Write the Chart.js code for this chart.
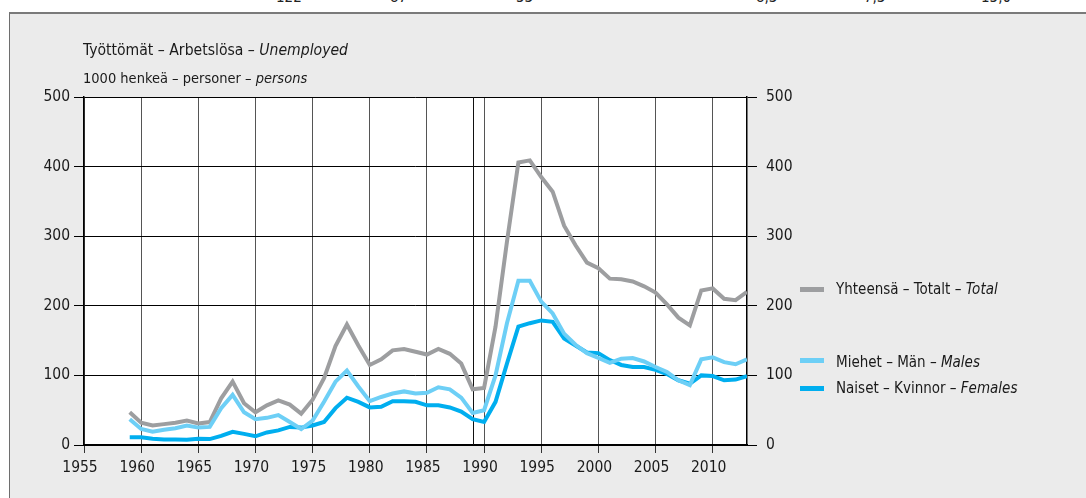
<!DOCTYPE html>
<html>
<head>
<meta charset="utf-8">
<script src="https://cdn.jsdelivr.net/npm/chart.js@4.4.1/dist/chart.umd.min.js"></script>
<style>
  html, body { margin: 0; padding: 0; background: #ffffff; }
  body { width: 1086px; height: 498px; position: relative; overflow: hidden;
         font-family: "Liberation Sans Narrow", "DejaVu Sans Condensed", "Arial Narrow", sans-serif; color: #1a1a1a; }
  #strip { position: absolute; left: 0; top: 0; width: 1086px; height: 12px; overflow: hidden; background: #fff; }
  #strip span { position: absolute; top: -10px; font-size: 15px; line-height: 15px; white-space: nowrap; color: #222; }
  #frame { position: absolute; left: 9px; top: 12px; width: 1077px; height: 486px; background: #ebebeb;
           border-left: 1px solid #6e6e6e; border-top: 2px solid #7a7a7a; box-sizing: border-box; }
  canvas { position: absolute; left: 0; top: 0; }
  .txt { position: absolute; white-space: nowrap; line-height: 16px; font-size: 15px; }
  .leg { position: absolute; width: 24px; height: 5px; }
</style>
</head>
<body>
<div id="strip">
  <span style="left:276px">122</span>
  <span style="left:390px">87</span>
  <span style="left:516px">53</span>
  <span style="left:756px">8,3</span>
  <span style="left:864px">7,3</span>
  <span style="left:981px">15,0</span>
</div>
<div id="frame"></div>
<canvas id="c" width="1086" height="498"></canvas>
<div class="txt" style="left:83px; top:42px; font-size:15.6px;">Työttömät – Arbetslösa – <i>Unemployed</i></div>
<div class="txt" style="left:83px; top:70px; font-size:14.5px;">1000 henkeä – personer – <i>persons</i></div>

<div class="leg" style="left:800px; top:287px; background:#9d9ea0;"></div>
<div class="txt" style="left:836px; top:281px;">Yhteensä – Totalt – <i>Total</i></div>
<div class="leg" style="left:800px; top:358px; background:#6dcff6;"></div>
<div class="txt" style="left:836px; top:354px;">Miehet – Män – <i>Males</i></div>
<div class="leg" style="left:800px; top:386px; background:#00aeef;"></div>
<div class="txt" style="left:836px; top:380px;">Naiset – Kvinnor – <i>Females</i></div>

<script>
const years = [1959,1960,1961,1962,1963,1964,1965,1966,1967,1968,1969,1970,1971,1972,1973,1974,1975,1976,1977,1978,1979,1980,1981,1982,1983,1984,1985,1986,1987,1988,1989,1990,1991,1992,1993,1994,1995,1996,1997,1998,1999,2000,2001,2002,2003,2004,2005,2006,2007,2008,2009,2010,2011,2012,2013];
const total = [47,32,28,30,32,35,31,33,67,91,60,47,57,64,58,45,65,96,142,173,143,115,123,136,138,134,130,138,131,117,80,82,170,292,406,409,385,364,315,287,262,254,239,238,235,228,219,202,183,172,222,225,210,208,220];
const males = [37,23,19,22,24,28,25,26,53,72,47,37,39,43,33,23,35,62,91,107,84,63,69,74,77,74,75,83,80,68,46,50,100,175,236,236,206,189,160,144,132,125,118,124,125,120,112,105,93,86,123,126,119,116,123];
const females = [11,11,9,8,8,7.5,9,8.5,13,19,16,12.5,18,21,26,25,28,33,53,68,62,54,55,63,63,62,57,57,54,48,37,33,62,117,170,175,179,177,153,143,133,132,122,115,112,112,108,102,93,88,100,99,93,94,99];
const xTickYears = [1955,1960,1965,1970,1975,1980,1985,1990,1995,2000,2005,2010];
const breakYears = [1989];
const yTicks = [0,100,200,300,400,500];

const FONT = "'Liberation Sans Narrow', 'DejaVu Sans Condensed', 'Arial Narrow', sans-serif";
const pts = arr => years.map((yr, i) => ({x: yr, y: arr[i]}));

const areaPlugin = {
  id: 'area',
  beforeDraw(chart) {
    const {ctx, chartArea: a} = chart;
    ctx.save();
    ctx.fillStyle = '#ffffff';
    ctx.fillRect(a.left, a.top, a.right - a.left, a.bottom - a.top);
    ctx.restore();
  },
  beforeDatasetsDraw(chart) {
    const {ctx, chartArea: a, scales} = chart;
    ctx.save();
    ctx.strokeStyle = '#111';
    ctx.lineWidth = 1;
    breakYears.forEach(yr => {
      const px = Math.round(scales.x.getPixelForValue(yr)) + 0.5;
      ctx.beginPath();
      ctx.moveTo(px, a.top);
      ctx.lineTo(px, a.bottom);
      ctx.stroke();
    });
    ctx.restore();
  }
};

const tickFont = {family: FONT, size: 15.5};

new Chart(document.getElementById('c'), {
  type: 'line',
  data: {
    datasets: [
      {label: 'Miehet', data: pts(males), borderColor: '#6dcff6', order: 0},
      {label: 'Naiset', data: pts(females), borderColor: '#00aeef', order: 1},
      {label: 'Yhteensä', data: pts(total), borderColor: '#9d9ea0', order: 2}
    ].map(d => Object.assign(d, {borderWidth: 4, pointRadius: 0, tension: 0, fill: false,
                                 borderJoinStyle: 'miter', borderCapStyle: 'butt', yAxisID: 'y'}))
  },
  options: {
    responsive: false,
    animation: false,
    events: [],
    layout: {padding: {top: 97, left: 0, right: 0, bottom: 0}},
    plugins: {legend: {display: false}, tooltip: {enabled: false}, title: {display: false}},
    scales: {
      x: {
        type: 'linear', min: 1955, max: 2013,
        afterBuildTicks: s => { s.ticks = xTickYears.map(v => ({value: v})); },
        afterFit: s => { s.height = 53; },
        ticks: {callback: v => String(v), font: tickFont, color: '#1a1a1a', padding: 6, labelOffset: -4, maxRotation: 0, autoSkip: false},
        grid: {color: '#555', lineWidth: 1, tickLength: 8, tickColor: '#333'},
        border: {display: true, color: '#000', width: 2}
      },
      y: {
        position: 'left', min: 0, max: 500,
        afterBuildTicks: s => { s.ticks = yTicks.map(v => ({value: v})); },
        afterFit: s => { s.width = 84; },
        ticks: {font: tickFont, color: '#1a1a1a', padding: 4, callback: v => String(v)},
        grid: {color: '#000', lineWidth: 1, tickLength: 10},
        border: {display: true, color: '#000', width: 1.5}
      },
      y2: {
        position: 'right', min: 0, max: 500,
        afterBuildTicks: s => { s.ticks = yTicks.map(v => ({value: v})); },
        afterFit: s => { s.width = 339; },
        ticks: {font: tickFont, color: '#1a1a1a', padding: 9, callback: v => String(v)},
        grid: {drawOnChartArea: false, color: '#000', lineWidth: 1, tickLength: 10},
        border: {display: true, color: '#000', width: 1.5}
      }
    }
  },
  plugins: [areaPlugin]
});
</script>
</body>
</html>
